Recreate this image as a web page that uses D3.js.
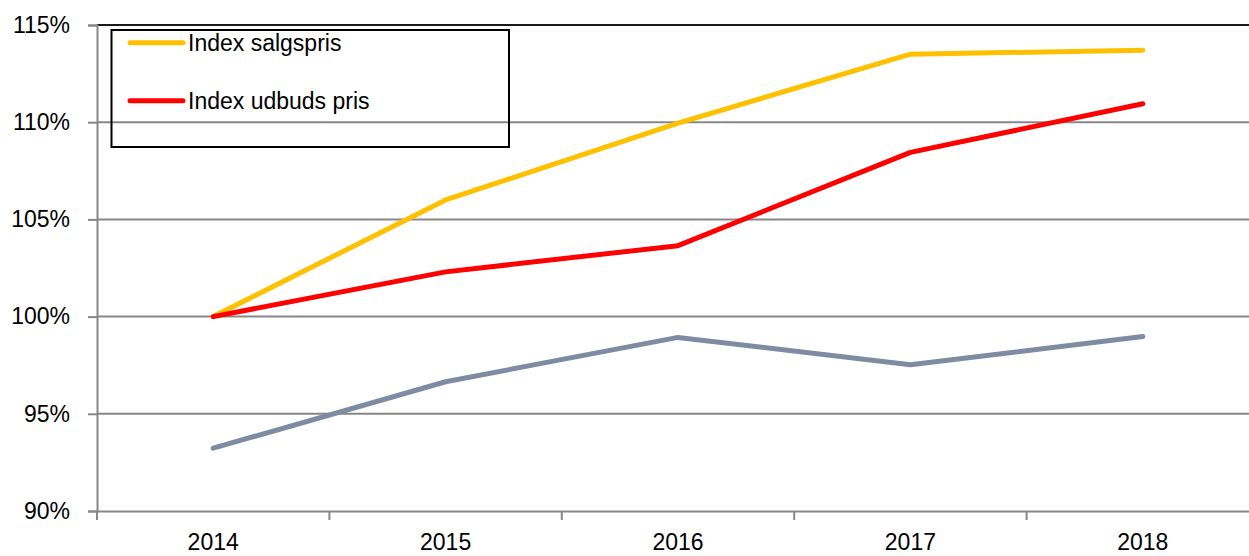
<!DOCTYPE html>
<html>
<head>
<meta charset="utf-8">
<script src="https://cdn.jsdelivr.net/npm/d3@7"></script>
<style>
  body { margin: 0; background: #fff; }
  svg { display: block; font-family: "Liberation Sans", Arial, sans-serif; }
</style>
</head>
<body>
<svg id="chart"></svg>
<script>
const years = ["2014", "2015", "2016", "2017", "2018"];
const salgspris = [100, 106.0, 109.95, 113.5, 113.7];
const udbudsPris = [100, 102.3, 103.65, 108.45, 110.95];
const andet = [93.23, 96.65, 98.93, 97.52, 98.98];
const yTicks = [90, 95, 100, 105, 110, 115];
const legendNames = ["Index salgspris", "Index udbuds pris"];

const width = 1249;
const height = 556;
const plotLeft = 97;
const plotTop = 25;
const plotBottom = 511;
const band = 232.4;

const svg = d3.select("#chart")
  .attr("width", width)
  .attr("height", height);

const xScale = d3.scaleBand()
  .domain(years)
  .range([plotLeft, plotLeft + band * years.length])
  .padding(0);

const yScale = d3.scaleLinear()
  .domain([90, 115])
  .range([plotBottom, plotTop]);

// horizontal gridlines
svg.append("g")
  .selectAll("line")
  .data(yTicks.slice(1))
  .enter()
  .append("line")
  .attr("x1", plotLeft)
  .attr("x2", plotLeft + band * years.length)
  .attr("y1", d => yScale(d))
  .attr("y2", d => yScale(d))
  .attr("stroke", d => d === 115 ? "#1a1a1a" : "#878787")
  .attr("stroke-width", 2);

// y axis
const yAxis = d3.axisLeft(yScale)
  .tickValues(yTicks)
  .tickFormat(d => d + "%")
  .tickSize(9)
  .tickPadding(18);

const gy = svg.append("g")
  .attr("transform", "translate(" + plotLeft + ",0)")
  .call(yAxis);
gy.select(".domain").attr("stroke", "#878787").attr("stroke-width", 2);
gy.selectAll(".tick line").attr("stroke", "#878787").attr("stroke-width", 2);
gy.selectAll(".tick text")
  .attr("font-size", 23)
  .attr("font-family", "Liberation Sans, Arial, sans-serif")
  .attr("fill", "#000");

// x axis
const xAxis = d3.axisBottom(xScale).tickSize(0).tickPadding(23);
const gx = svg.append("g")
  .attr("transform", "translate(0," + plotBottom + ")")
  .call(xAxis);
gx.select(".domain").attr("stroke", "#878787").attr("stroke-width", 2);
gx.selectAll(".tick text")
  .attr("font-size", 23)
  .attr("font-family", "Liberation Sans, Arial, sans-serif")
  .attr("fill", "#000");

// category boundary ticks
svg.append("g")
  .selectAll("line")
  .data(years.concat(["end"]))
  .enter()
  .append("line")
  .attr("x1", (d, i) => plotLeft + i * xScale.bandwidth())
  .attr("x2", (d, i) => plotLeft + i * xScale.bandwidth())
  .attr("y1", plotBottom)
  .attr("y2", plotBottom + 9)
  .attr("stroke", "#878787")
  .attr("stroke-width", 2);

const line = d3.line()
  .x((d, i) => xScale(years[i]) + xScale.bandwidth() / 2)
  .y(d => yScale(d));

const series = [
  { values: andet, color: "#7f8ba2" },
  { values: salgspris, color: "#ffc000" },
  { values: udbudsPris, color: "#ff0000" }
];

svg.append("g")
  .selectAll("path")
  .data(series)
  .enter()
  .append("path")
  .attr("d", d => line(d.values))
  .attr("fill", "none")
  .attr("stroke", d => d.color)
  .attr("stroke-width", 5)
  .attr("stroke-linecap", "round")
  .attr("stroke-linejoin", "round");

// legend
const legend = svg.append("g");
legend.append("rect")
  .attr("x", 111.5)
  .attr("y", 30)
  .attr("width", 397.5)
  .attr("height", 117)
  .attr("fill", "none")
  .attr("stroke", "#000")
  .attr("stroke-width", 2);

const legendColors = ["#ffc000", "#ff0000"];
const legendY = [42.7, 100.7];
legendNames.forEach((name, i) => {
  legend.append("line")
    .attr("x1", 130)
    .attr("x2", 183)
    .attr("y1", legendY[i])
    .attr("y2", legendY[i])
    .attr("stroke", legendColors[i])
    .attr("stroke-width", 5)
    .attr("stroke-linecap", "round");
  legend.append("text")
    .attr("x", 188)
    .attr("y", legendY[i] + 8)
    .attr("font-size", 23)
    .attr("fill", "#000")
    .text(name);
});
</script>
</body>
</html>
